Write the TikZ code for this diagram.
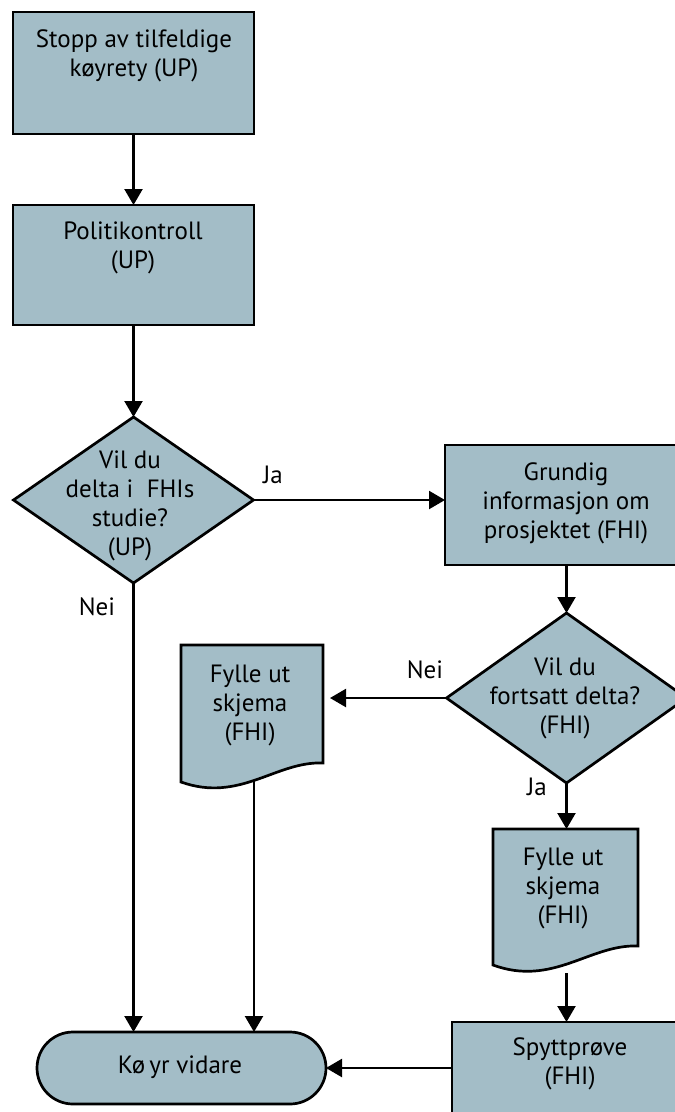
\documentclass[tikz,border=0pt]{standalone}
\usepackage{fontspec}
\setmainfont{PT Sans}
\usetikzlibrary{arrows.meta,shapes.geometric,calc}
\definecolor{boxfill}{RGB}{163,189,199}
\newcommand\ml[1]{\begin{tabular}[t]{@{}c@{}}#1\end{tabular}}
\begin{document}
\begin{tikzpicture}[x=1pt,y=-1pt,
  shapebox/.style={draw=black, line width=2.7pt, fill=boxfill, inner sep=0pt, outer sep=0pt},
  docbox/.style={draw=black, line width=2.7pt, fill=boxfill, line join=miter},
  conn/.style={line width=2.2pt, -{Triangle[width=18pt,length=16pt]}},
  txt/.style={font=\fontsize{25}{29}\selectfont, anchor=base, inner sep=0pt}]
\useasboundingbox (0,0) rectangle (675,1112);
\clip (0,0) rectangle (675,1112);

% shapes
\node[shapebox, minimum width=241pt, minimum height=122pt] (b1) at (133.5,73) {};
\node[shapebox, minimum width=241pt, minimum height=120pt] (b2) at (133.5,265) {};
\node[shapebox, diamond, minimum width=240pt, minimum height=166pt] (d1) at (133.5,500) {};
\node[shapebox, minimum width=243pt, minimum height=120pt] (b3) at (566.5,505) {};
\node[shapebox, diamond, minimum width=240pt, minimum height=170pt] (d2) at (566.5,698) {};
\node[inner sep=0pt, outer sep=0pt, minimum width=142pt, minimum height=118pt] (doc1) at (252,704) {};
\node[inner sep=0pt, outer sep=0pt, minimum width=145pt, minimum height=117pt] (doc2) at (565.5,887.5) {};
\node[shapebox, minimum width=241pt, minimum height=120pt] (spy) at (572.5,1082) {};
\node[shapebox, rounded corners=36pt, minimum width=289pt, minimum height=72pt] (term) at (181.5,1068) {};

\begin{scope}[shift={(181,645)}]
  \draw[docbox] (0,0) -- (142,0) -- (142,118) .. controls (95,116) and (59,158) .. (0,137) -- cycle;
\end{scope}
\begin{scope}[shift={(493,829)}]
  \draw[docbox] (0,0) -- (145,0) -- (145,117) .. controls (97,115) and (60,158) .. (0,136) -- cycle;
\end{scope}
\coordinate (doc1b) at (254,780);
\coordinate (doc2b) at (566.5,973);

% connectors
\draw[conn] (b1.south) -- (b2.north);
\draw[conn] (b2.south) -- (d1.north);
\draw[conn] (d1.east) -- (d1.east -| b3.west);
\draw[conn] (b3.south) -- (d2.north);
\draw[conn, shorten >=7pt] (d2.west) -- (d2.west -| doc1.east);
\draw[conn] (doc1b) -- (doc1b |- term.north);
\draw[conn] (d1.south) -- (d1.south |- term.north);
\draw[conn] (d2.south) -- (d2.south |- doc2.north);
\draw[conn] (doc2b) -- (doc2b |- spy.north);
\draw[conn] (term.east -| spy.west) -- (term.east);

% texts
\node[txt] (t1) at (134,47) {\ml{Stopp av tilfeldige\\køyrety (UP)}};
\node[txt] (t2) at (133,239) {\ml{Politikontroll\\(UP)}};
\node[txt] (t3) at (130,468) {\ml{Vil du\\delta i\ \ FHIs\\studie?\\(UP)}};
\node[txt] (t4) at (566,480) {\ml{Grundig\\informasjon om\\prosjektet (FHI)}};
\node[txt] (t5) at (565,675) {\ml{Vil du\\fortsatt delta?\\(FHI)}};
\node[txt] (t6) at (250,682) {\ml{Fylle ut\\skjema\\(FHI)}};
\node[txt] (t7) at (563,865) {\ml{Fylle ut\\skjema\\(FHI)}};
\node[txt] (t8) at (570,1055) {\ml{Spyttprøve\\(FHI)}};
\node[txt] (t9) at (180,1073) {Kø\,yr vidare};

% labels
\node[txt] (l1) at (273,483) {Ja};
\node[txt] (l2) at (97,615) {Nei};
\node[txt] (l3) at (425,678) {Nei};
\node[txt] (l4) at (537,795) {Ja};
\end{tikzpicture}
\end{document}
